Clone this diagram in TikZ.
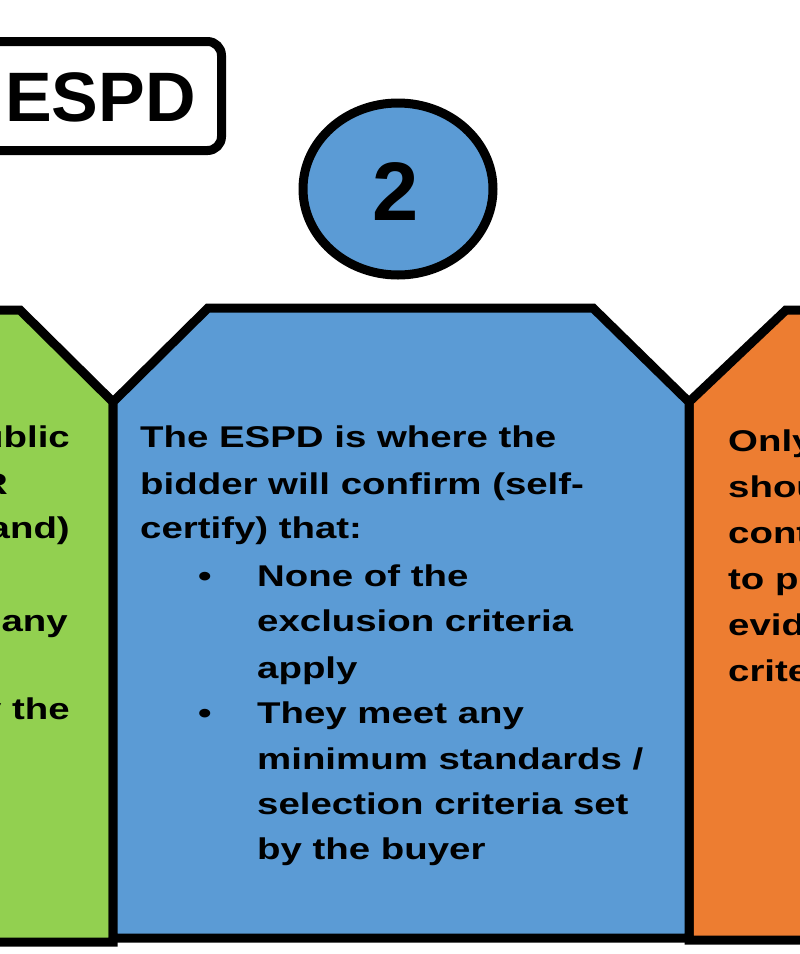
\documentclass[tikz,border=0pt]{standalone}
\usepackage{fontspec}
\usetikzlibrary{shapes.geometric}
\setmainfont{Liberation Sans}
\newfontfamily\widefont[FakeStretch=1.28]{Liberation Sans}
\definecolor{gr}{HTML}{92D050}
\definecolor{bl}{HTML}{5B9BD5}
\definecolor{or}{HTML}{ED7D31}
\begin{document}
\begin{tikzpicture}[x=1pt,y=-1pt,
  shp/.style={draw=black,line width=9pt,line join=miter},
  txt/.style={font=\widefont\fontsize{30}{46}\selectfont\bfseries,inner sep=0pt,anchor=base west},
  txe/.style={txt,anchor=base east}]
\useasboundingbox (0,0) rectangle (800,954);
\clip (0,0) rectangle (800,954);
\fill[white] (0,0) rectangle (800,954);
% ESPD box
\node[draw,line width=9pt,rounded corners=14pt,minimum width=257pt,minimum height=109pt,anchor=north west,inner sep=0pt] (box) at (-40,37) {};
\node[font=\fontsize{70}{70}\selectfont\bfseries,inner sep=0pt,anchor=base west] (espd) at (5,121) {ESPD};
% circle
\node[draw,fill=bl,ellipse,line width=9pt,minimum width=190pt,minimum height=172pt,inner sep=0pt] (num) at (398,189) {};
\node[font=\fontsize{83}{83}\selectfont\bfseries,inner sep=0pt,anchor=base] (two) at (396,220) {2};
% shapes
\filldraw[shp,fill=gr] (-20,310) -- (20,310) -- (113,402) -- (113,942) -- (-20,942) -- cycle;
\filldraw[shp,fill=or] (820,310) -- (786,310) -- (689,402) -- (689,940) -- (820,940) -- cycle;
\filldraw[shp,fill=bl] (208,308) -- (593,308) -- (689,402) -- (689,938) -- (113,938) -- (113,402) -- cycle;
% green text
\node[txe] (g1) at (70,447) {Public};
\node[txe] (g2) at (8,494) {OJEU/FTS OR};
\node[txe] (g3) at (70,538) {contract (and)};
\node[txe] (g4) at (68,631) {meet any};
\node[txe] (g5) at (70,719) {set by the};
% blue text
\node[txt] (b1) at (140,447) {The ESPD is where the};
\node[txt] (b2) at (140,494) {bidder will confirm (self-};
\node[txt] (b3) at (140,538) {certify) that:};
\node[txt] (d1) at (198,586) {\textbullet};
\node[txt] (b4) at (257,586) {None of the};
\node[txt] (b5) at (257,631) {exclusion criteria};
\node[txt] (b6) at (257,678) {apply};
\node[txt] (d2) at (198,723) {\textbullet};
\node[txt] (b7) at (257,723) {They meet any};
\node[txt] (b8) at (257,769) {minimum standards /};
\node[txt] (b9) at (257,814) {selection criteria set};
\node[txt] (b10) at (257,859) {by the buyer};
% orange text
\node[txt] (o1) at (728,451) {Only};
\node[txt] (o2) at (728,497) {should};
\node[txt] (o3) at (728,543) {contact};
\node[txt] (o4) at (728,589) {to provide};
\node[txt] (o5) at (728,635) {evidence};
\node[txt] (o6) at (728,681) {criteria};
\end{tikzpicture}
\end{document}
